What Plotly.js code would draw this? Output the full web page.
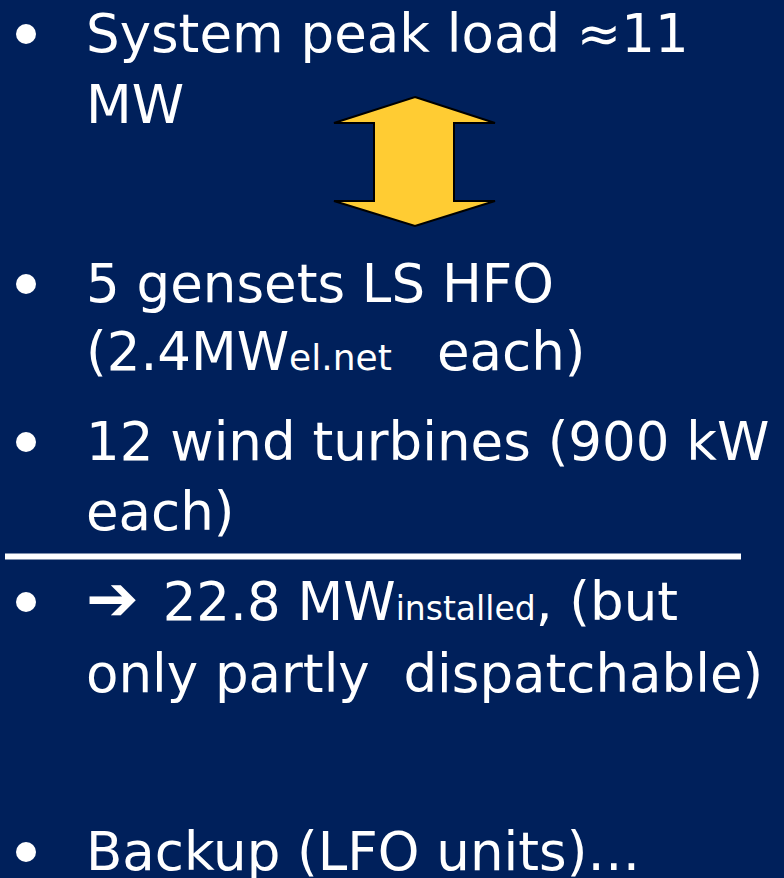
<!DOCTYPE html>
<html>
<head>
<meta charset="utf-8">
<script src="https://cdn.plot.ly/plotly-3.0.1.min.js"></script>
<style>
  html, body { margin: 0; padding: 0; background: #00205B; }
  #chart { width: 784px; height: 878px; }
</style>
</head>
<body>
<div id="chart"></div>
<script>
// ---- Content (slide text) ----
const SUB_A = "<span style='font-size:36px'>";
const SUB_B = "<span style='font-size:33px'>";
const ARROW = "<span style='font-size:63px'>➔</span><span style='font-size:75px'>&nbsp;</span>";
const item1 = ["System peak load ≈11", "MW"];
const item2 = ["5 gensets LS HFO", "(2.4MW" + SUB_A + "el.net&nbsp;</span>&nbsp; each)"];
const item3 = ["12 wind turbines (900 kW", "each)"];
const item4 = [ARROW + "22.8 MW" + SUB_B + "installed</span>, (but", "only partly&nbsp; dispatchable)"];
const item5 = ["Backup (LFO units)…"];
const items = [item1, item2, item3, item4, item5];

// ---- Layout constants (pixel positions) ----
const W = 784, H = 878;
const bg = "#00205B";
const textX = 85;
const bulletX = 26;
const bulletR = 10;
const baselines = [[52, 123], [302, 370], [460, 530], [620, 692], [870]];
const fontSize = 53;

// distance from baseline to the middle of the text box (DejaVu ascent .928 / descent .236)
function midOffset(txt) {
  let maxSize = fontSize;
  const re = /font-size:(\d+)px/g;
  let m;
  while ((m = re.exec(txt)) !== null) maxSize = Math.max(maxSize, +m[1]);
  return maxSize * (0.928 - 0.236) / 2;
}

const annotations = [];
const shapes = [];

items.forEach((lines, i) => {
  lines.forEach((txt, j) => {
    annotations.push({
      xref: "x", yref: "y",
      x: textX, y: baselines[i][j] - midOffset(txt),
      xanchor: "left", yanchor: "middle",
      text: txt, showarrow: false,
      font: { family: "DejaVu Sans", size: fontSize, color: "#FFFFFF" },
      borderpad: 0
    });
  });
  const by = baselines[i][0] - 18;
  shapes.push({
    type: "circle", xref: "x", yref: "y",
    x0: bulletX - bulletR, x1: bulletX + bulletR,
    y0: by - bulletR, y1: by + bulletR,
    fillcolor: "#FFFFFF", line: { width: 0 }
  });
});

// separator rule
shapes.push({
  type: "line", xref: "x", yref: "y",
  x0: 5, x1: 741, y0: 556.5, y1: 556.5,
  line: { color: "#FFFFFF", width: 6 }
});

// double-headed block arrow
const ax = { cx: 415, top: 97, headTop: 123, headBot: 201, bot: 226, headL: 334, headR: 495, shaftL: 374, shaftR: 454 };
const arrowPath =
  `M ${ax.cx} ${ax.top} L ${ax.headR} ${ax.headTop} L ${ax.shaftR} ${ax.headTop} ` +
  `L ${ax.shaftR} ${ax.headBot} L ${ax.headR} ${ax.headBot} L ${ax.cx} ${ax.bot} ` +
  `L ${ax.headL} ${ax.headBot} L ${ax.shaftL} ${ax.headBot} L ${ax.shaftL} ${ax.headTop} ` +
  `L ${ax.headL} ${ax.headTop} Z`;
shapes.push({
  type: "path", xref: "x", yref: "y", path: arrowPath,
  fillcolor: "#FFCC33", line: { color: "#000000", width: 2 }
});

const layout = {
  width: W, height: H,
  margin: { l: 0, r: 0, t: 0, b: 0, pad: 0 },
  paper_bgcolor: bg, plot_bgcolor: bg,
  xaxis: { range: [0, W], visible: false, fixedrange: true },
  yaxis: { range: [H, 0], visible: false, fixedrange: true },
  showlegend: false,
  annotations: annotations,
  shapes: shapes
};

Plotly.newPlot("chart", [], layout, { staticPlot: true, displayModeBar: false });
</script>
</body>
</html>
